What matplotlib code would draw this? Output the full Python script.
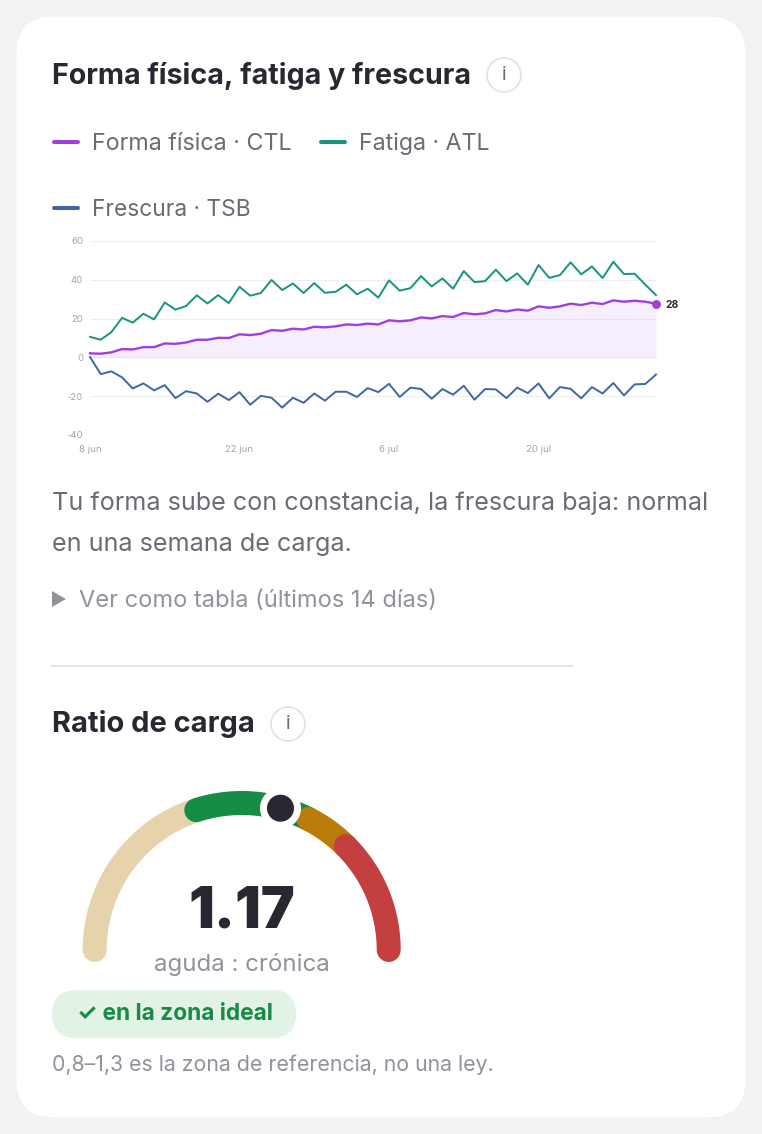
# -*- coding: utf-8 -*-
import numpy as np
import matplotlib
matplotlib.use('Agg')
import matplotlib.pyplot as plt
from matplotlib.patches import FancyBboxPatch, Circle

plt.rcParams['font.family'] = ['Inter', 'DejaVu Sans']
plt.rcParams['axes.unicode_minus'] = False

#-------------------------------- DATA -------------------------------------
ctl = [2.1, 1.9, 2.6, 4.3, 4.1, 5.3, 5.3, 7.2, 7.0, 7.7, 9.1, 9.1, 10.1, 10.0, 11.9, 11.5, 12.2, 14.1,
       13.7, 14.8, 14.4, 15.8, 15.5, 16.0, 17.0, 16.7, 17.4, 17.0, 19.1, 18.6, 19.1, 20.6, 20.1, 21.3,
       20.8, 22.9, 22.2, 22.7, 24.4, 23.7, 24.7, 24.1, 26.3, 25.6, 26.3, 27.7, 27.0, 28.2, 27.5, 29.4,
       28.7, 29.2, 28.7, 27.7]
atl = [10.6, 9.1, 13.0, 20.4, 17.9, 22.5, 19.6, 28.3, 24.6, 26.5, 32.0, 27.8, 32.1, 28.0, 36.4, 31.8, 33.2, 39.9,
       34.7, 38.1, 33.2, 38.3, 33.3, 33.8, 37.5, 32.5, 35.4, 30.8, 39.7, 34.4, 35.7, 41.9, 36.6, 40.7,
       35.4, 44.5, 38.8, 39.3, 45.2, 39.3, 43.3, 37.5, 47.6, 41.0, 42.4, 49.0, 42.8, 46.9, 40.9, 49.3,
       43.0, 43.1, 37.5, 32.1]
tsb = [0.2, -8.6, -7.2, -10.3, -16.0, -13.4, -17.0, -14.3, -21.0, -17.4, -18.6, -22.9, -18.7, -22.0, -17.9, -24.4, -19.8, -20.8,
       -25.9, -20.8, -23.4, -18.6, -22.3, -17.7, -17.7, -20.4, -15.8, -17.9, -13.6, -20.4, -15.6, -16.3, -21.3, -16.3,
       -19.2, -14.6, -21.8, -16.3, -16.5, -21.0, -15.6, -18.4, -13.4, -21.1, -15.3, -16.2, -21.1, -15.3, -18.6, -13.2,
       -19.6, -13.9, -13.7, -8.8]
y_ticks = [-40, -20, 0, 20, 40, 60]
x_ticks = [0, 14, 28, 42]
x_labels = ['8 jun', '22 jun', '6 jul', '20 jul']

ratio = 1.17
ratio_max = 2.0
zones = [0.0, 0.8, 1.3, 1.5, 2.0]
zone_colors = ['#e6d3ab', '#178c47', '#ba7d0a', '#c43f3f']

PURPLE = '#a03fe0'
TEAL = '#16947f'
BLUE = '#3f66a8'
INK = '#2a2733'
GREY = '#6b6a75'
LIGHT = '#92919c'

W, H = 762, 1134

#-------------------------------- PAGE ---------------------------------------
fig = plt.figure(figsize=(W / 100, H / 100), dpi=100, facecolor='#f3f3f4')
bg = fig.add_axes([0, 0, 1, 1])
bg.set_xlim(0, W)
bg.set_ylim(H, 0)
bg.axis('off')
bg.set_aspect('equal')

bg.add_patch(FancyBboxPatch((16 + 38, 16 + 38), 730 - 76, 1102 - 76, boxstyle='round,pad=38,rounding_size=38',
                            fc='white', ec='#f0f0f2', lw=0.6))

bg.text(52, 76, 'Forma física, fatiga y frescura', fontsize=20.65, fontweight='bold', color=INK, va='center')
bg.text(52, 724, 'Ratio de carga', fontsize=20.9, fontweight='bold', color=INK, va='center')
for cx, cy in [(504, 75), (288, 724)]:
    bg.add_patch(Circle((cx, cy), 17, fc='white', ec='#e3e3e6', lw=1.3))
    bg.text(cx, cy, 'i', fontsize=14, color=GREY, ha='center', va='center')

# legend
for x0, y0, col, size, name in [(52, 142, PURPLE, 16.75, 'Forma física · CTL'),
                                (319, 142, TEAL, 16.7, 'Fatiga · ATL'),
                                (52, 208, BLUE, 16.4, 'Frescura · TSB')]:
    bg.plot([x0 + 2, x0 + 26], [y0, y0], color=col, lw=2.9, solid_capstyle='round')
    bg.text(x0 + 40, y0 + 2, name, fontsize=size, color=GREY, va='center')

bg.text(52, 503, 'Tu forma sube con constancia, la frescura baja: normal', fontsize=18.1, color=GREY, va='center')
bg.text(52, 545, 'en una semana de carga.', fontsize=18.1, color=GREY, va='center')
bg.fill([52, 52, 66], [591, 607, 599], color=LIGHT, lw=0)
bg.text(79, 601, 'Ver como tabla (últimos 14 días)', fontsize=17, color=LIGHT, va='center')
bg.plot([52, 572], [666, 666], color='#e4e4e6', lw=1.4)

#-------------------------------- PLOT GRAPH ---------------------------------------
ax = fig.add_axes([90 / W, 1 - 435 / H, (656 - 90) / W, (435 - 241) / H])
days = np.arange(len(ctl))
ax.set_xlim(0, len(ctl) - 1)
ax.set_ylim(-40, 60)
ax.patch.set_alpha(0)
for s in ax.spines.values():
    s.set_visible(False)
ax.set_yticks(y_ticks)
ax.set_xticks(x_ticks)
ax.set_xticklabels(x_labels)
ax.tick_params(length=0, labelsize=6.9, labelcolor='#a3a2ac', pad=7)
ax.tick_params(axis='y', pad=5)
ax.grid(True, axis='y', color='#eeeef0', lw=0.8)
ax.grid(False, axis='x')
ax.set_axisbelow(True)
ax.fill_between(days, ctl, 0, color=PURPLE, alpha=0.085, lw=0)
ax.axhline(0, color='#efe3f7', lw=0.8)
ax.plot(days, atl, color=TEAL, lw=1.4, clip_on=False)
ax.plot(days, tsb, color=BLUE, lw=1.4, clip_on=False)
ax.plot(days, ctl, color=PURPLE, lw=1.7, clip_on=False)
ax.plot(days[-1], ctl[-1], 'o', color=PURPLE, ms=6.4, mew=0, clip_on=False, zorder=5)
ax.annotate('%d' % round(ctl[-1]), (days[-1], ctl[-1]), xytext=(9, -1), textcoords='offset pixels',
            fontsize=7.4, fontweight='bold', color=INK, va='center')

#-------------------------------- GAUGE ---------------------------------------
cx, cy, R = 241.7, 950, 147


def angle(v):
    return np.pi * (1 - v / ratio_max)


for lo, hi, col in zip(zones[:-1], zones[1:], zone_colors):
    t = np.linspace(angle(lo), angle(hi), 80)
    bg.plot(cx + R * np.cos(t), cy - R * np.sin(t), color=col, lw=17.3, solid_capstyle='round')

mx, my = cx + R * np.cos(angle(ratio)), cy - R * np.sin(angle(ratio))
bg.add_patch(Circle((mx, my), 20.5, fc='white', ec='none', zorder=6))
bg.add_patch(Circle((mx, my), 13.5, fc=INK, ec='none', zorder=7))

bg.text(cx, 913, '%.2f' % ratio, fontsize=41, fontweight='black', color=INK, ha='center', va='center')
bg.text(cx, 965, 'aguda : crónica', fontsize=17.3, color=LIGHT, ha='center', va='center')

bg.add_patch(FancyBboxPatch((52 + 24, 990 + 24), 244 - 48, 0, boxstyle='round,pad=24,rounding_size=24',
                            fc='#e2f3e6', ec='none'))
bg.text(174.5, 1014, '✓ en la zona ideal', fontsize=16.4, fontweight='bold', color='#178c47', ha='center', va='center')
bg.text(52, 1065, '0,8–1,3 es la zona de referencia, no una ley.', fontsize=15.35, color=LIGHT, va='center')

plt.savefig('out.png', dpi=100, facecolor=fig.get_facecolor())
